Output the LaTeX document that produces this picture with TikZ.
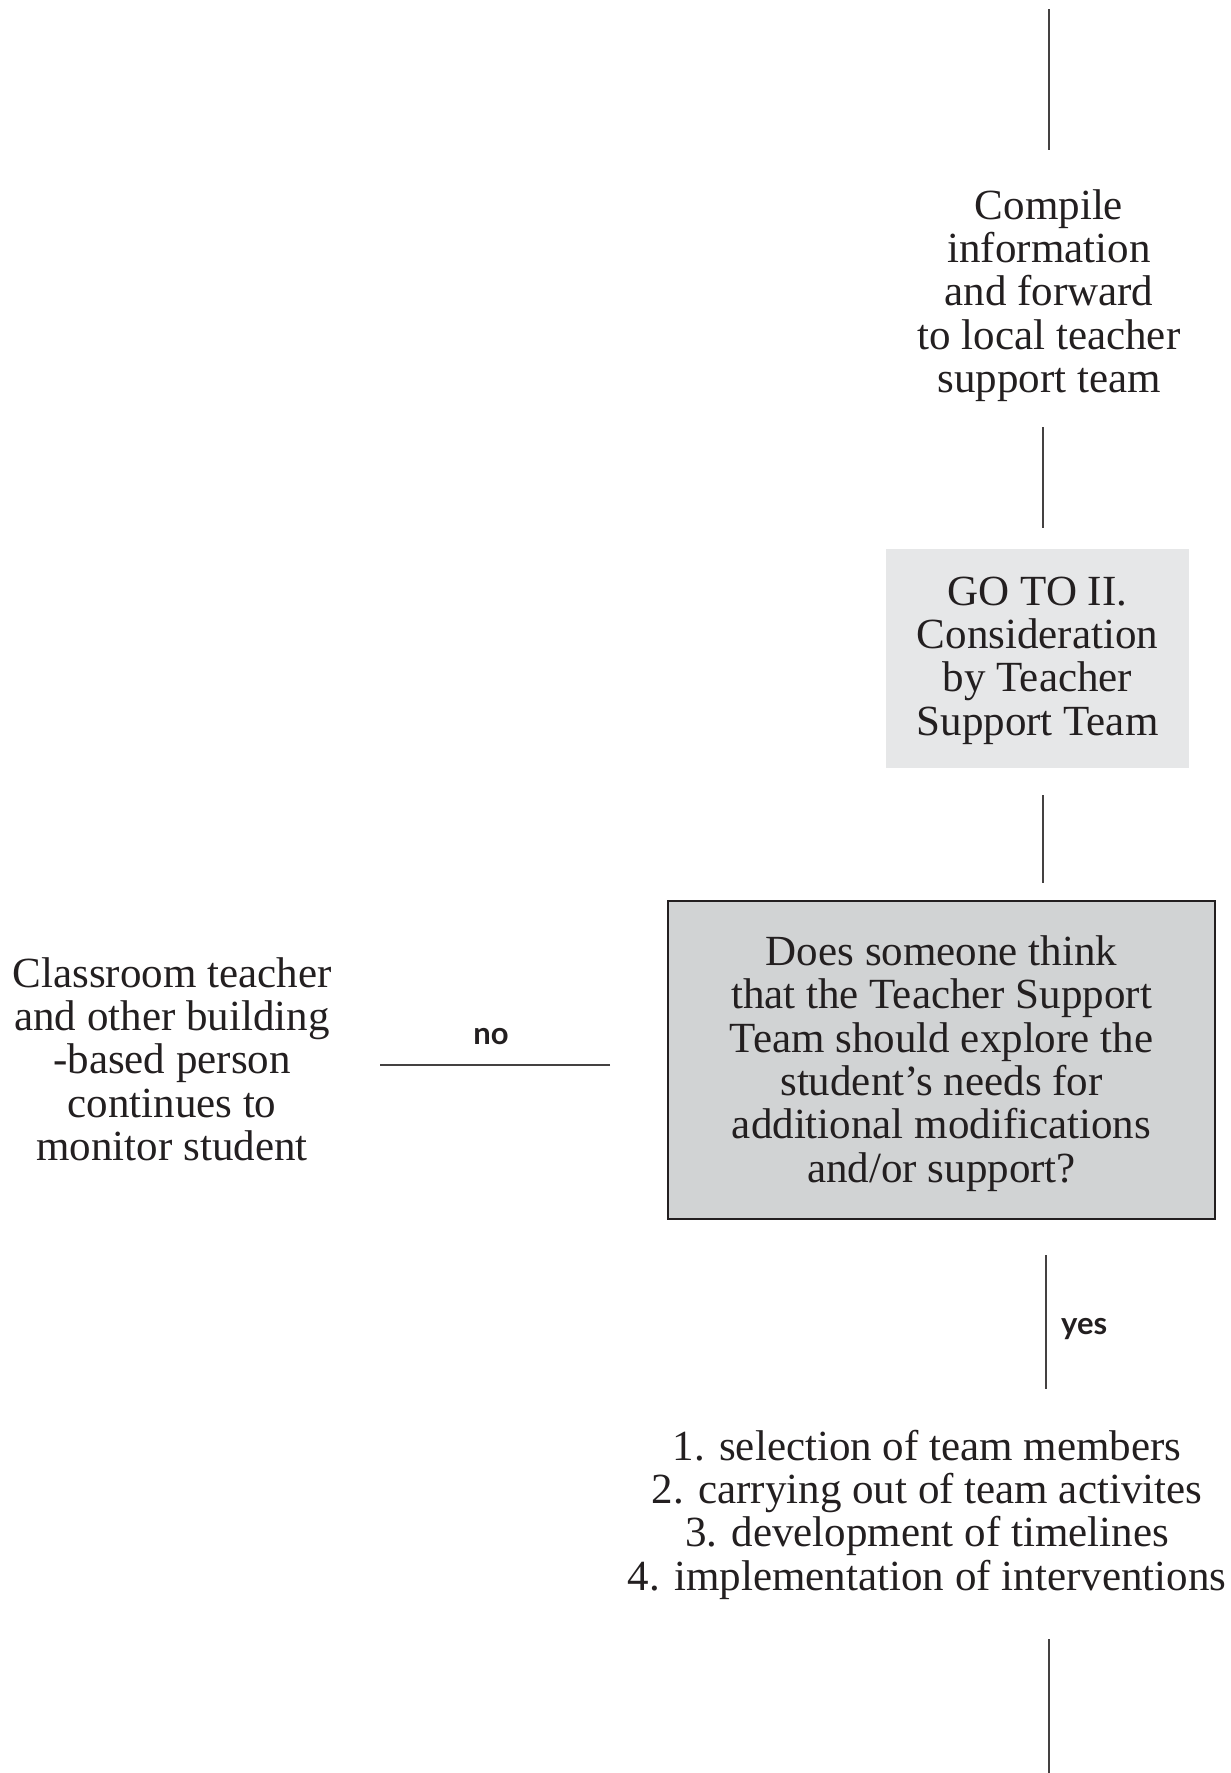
\documentclass[tikz,border=0pt]{standalone}
\usepackage{fontspec}
\setmainfont{Liberation Serif}
\newfontfamily\labfont{Lato}
\definecolor{lightbox}{HTML}{E6E7E8}
\definecolor{darkbox}{HTML}{D1D3D4}
\definecolor{ink}{HTML}{231F20}
\tikzset{
  body/.style={font=\fontsize{43}{43.3}\selectfont, align=center, inner sep=0pt, text=ink},
  conn/.style={draw=ink!85, line width=1.3pt},
  lab/.style={font=\labfont\bfseries\fontsize{31}{33}\selectfont, text=ink, inner sep=0pt},
}
\begin{document}
\begin{tikzpicture}[x=1pt,y=-1pt]
\useasboundingbox (0,0) rectangle (1231,1773);
% nodes
\node[body] (compile) at (1049,295.5) {Compile\\information\\and forward\\to local teacher\\support team};
\node[body, fill=lightbox, minimum width=303pt, minimum height=219pt] (goto) at (1037.5,658.5) {};
\node[body] (gototext) at (1037.5,660.5) {GO TO II.\\Consideration\\by Teacher\\Support Team};
\node[body, fill=darkbox, draw=ink, line width=1.6pt, minimum width=547pt, minimum height=318pt] (decision) at (941.5,1060) {};
\node[body] (dectext) at (941.5,1063.5)
  {Does someone think\\that the Teacher Support\\Team should explore the\\student's needs for\\additional modifications\\and/or support?};
\node[body] (monitor) at (172,1059) {Classroom teacher\\and other building\\-based person\\continues to\\monitor student};
\node[body] (list) at (927,1514.5) {1. selection of team members\\2. carrying out of team activites\\3. development of timelines\\4. implementation of interventions};
% connector end points
\coordinate (topA) at (1049,9);
\coordinate (topB) at (1049,150);
\coordinate (mA) at (1043,427);
\coordinate (mB) at (1043,528);
\coordinate (gA) at (1043,795);
\coordinate (gB) at (1043,883);
\coordinate (nA) at (610,1065);
\coordinate (nB) at (380,1065);
\coordinate (yA) at (1046,1255);
\coordinate (yB) at (1046,1389);
\coordinate (bA) at (1049,1639);
\coordinate (bB) at (1049,1773);
% connectors
\draw[conn] (topA) -- (topB);
\draw[conn] (mA) -- (mB);
\draw[conn] (gA) -- (gB);
\draw[conn] (nA) -- (nB);
\draw[conn] (yA) -- (yB);
\draw[conn] (bA) -- (bB);
% labels
\node[lab] (nolab) at (491,1036.5) {no};
\node[lab, anchor=west] (yeslab) at (1061,1329.5) {yes};
\end{tikzpicture}
\end{document}
